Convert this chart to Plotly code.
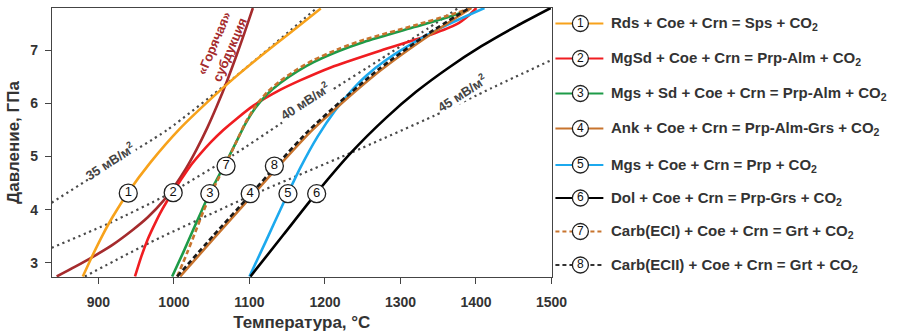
import plotly.graph_objects as go

# ---------------- data ----------------
T1 = [879.3, 892.6, 905.9, 919.1, 939.1, 968.4, 1008.2, 1052.1, 1077.4, 1114.6, 1154.5, 1194.4]
P1 = [2.74, 3.15, 3.53, 3.87, 4.32, 4.88, 5.53, 6.13, 6.45, 6.89, 7.34, 7.79]

T2 = [948.4, 956.4, 964.4, 972.3, 981.6, 989.6, 998.9, 1009.6, 1021.5, 1034.8, 1049.5, 1065.4, 1082.7, 1105.3, 1141.2, 1167.8, 1207.7, 1274.2, 1340.7, 1373.9, 1391.2, 1400.5]
P2 = [2.74, 3.10, 3.41, 3.66, 3.93, 4.13, 4.33, 4.57, 4.82, 5.05, 5.28, 5.50, 5.71, 5.96, 6.26, 6.44, 6.68, 7.00, 7.30, 7.49, 7.67, 7.80]

T3 = [997.6, 1012.2, 1025.5, 1036.2, 1046.8, 1058.8, 1070.7, 1082.7, 1094.7, 1108.0, 1123.9, 1141.2, 1163.8, 1185.1, 1218.4, 1251.6, 1318.1, 1363.3, 1389.9]
P3 = [2.74, 3.19, 3.62, 3.96, 4.30, 4.62, 4.94, 5.28, 5.62, 5.92, 6.18, 6.39, 6.61, 6.78, 6.99, 7.16, 7.44, 7.63, 7.76]

T4 = [1008.2, 1054.8, 1101.3, 1141.2, 1181.1, 1221.0, 1274.2, 1340.7, 1393.9]
P4 = [2.74, 3.49, 4.23, 4.86, 5.47, 5.99, 6.63, 7.31, 7.80]

T5 = [1100.0, 1122.6, 1145.2, 1167.8, 1190.4, 1213.0, 1234.3, 1254.3, 1280.9, 1314.1, 1354.0, 1411.2]
P5 = [2.74, 3.43, 4.13, 4.80, 5.38, 5.86, 6.23, 6.52, 6.82, 7.12, 7.43, 7.80]

T6 = [1101.3, 1145.2, 1189.1, 1234.3, 1280.9, 1320.7, 1363.3, 1407.2, 1453.7, 1498.9]
P6 = [2.74, 3.53, 4.32, 5.07, 5.73, 6.22, 6.67, 7.08, 7.46, 7.80]

T7 = [1004.3, 1017.6, 1029.5, 1038.8, 1048.8, 1060.1, 1071.4, 1082.7, 1094.7, 1108.0, 1123.9, 1141.2, 1163.8, 1185.1, 1218.4, 1251.6, 1318.1, 1363.3, 1392.6]
P7 = [2.74, 3.19, 3.62, 3.96, 4.30, 4.62, 4.94, 5.28, 5.64, 5.95, 6.22, 6.43, 6.65, 6.82, 7.03, 7.20, 7.47, 7.66, 7.79]

T8 = [1004.3, 1052.1, 1098.7, 1138.6, 1178.5, 1218.4, 1271.5, 1338.0, 1391.2]
P8 = [2.74, 3.51, 4.24, 4.88, 5.49, 6.01, 6.65, 7.33, 7.80]

T_hot = [844.7, 868.6, 892.6, 919.1, 945.7, 965.7, 985.6, 1001.6, 1016.2, 1029.5, 1044.1, 1057.4, 1070.7, 1082.7, 1093.4, 1104.5]
P_hot = [2.74, 2.92, 3.11, 3.34, 3.62, 3.86, 4.16, 4.46, 4.78, 5.12, 5.54, 5.97, 6.44, 6.90, 7.33, 7.80]

T_g35 = [838.0, 915.4, 990.9, 1077.4, 1189.1]
P_g35 = [4.13, 4.83, 5.50, 6.46, 7.80]
T_g40 = [838.0, 915.2, 990.9, 1078.7, 1141.2, 1207.7, 1274.2, 1327.4, 1376.6]
P_g40 = [3.28, 3.75, 4.28, 5.03, 5.62, 6.24, 6.84, 7.33, 7.80]
T_g45 = [881.9, 968.4, 1101.3, 1234.3, 1344.7, 1420.5, 1500.0]
P_g45 = [2.74, 3.38, 4.26, 5.07, 5.77, 6.29, 6.82]

label_num = ["1", "2", "3", "4", "5", "6", "7", "8"]
label_T = [939.5, 999.0, 1047.5, 1101.0, 1151.0, 1189.0, 1069.0, 1133.0]
label_P = [4.31, 4.32, 4.30, 4.30, 4.30, 4.30, 4.82, 4.82]

geo_text = ["35 мВ/м<sup>2</sup>", "40 мВ/м<sup>2</sup>", "45 мВ/м<sup>2</sup>"]
geo_T = [915.0, 1173.0, 1381.0]
geo_P = [4.92, 6.05, 6.20]

legend_text = [
    "Rds + Coe + Crn = Sps + CO<sub>2</sub>",
    "MgSd + Coe + Crn = Prp-Alm + CO<sub>2</sub>",
    "Mgs + Sd + Coe + Crn = Prp-Alm + CO<sub>2</sub>",
    "Ank + Coe + Crn = Prp-Alm-Grs + CO<sub>2</sub>",
    "Mgs + Coe + Crn = Prp + CO<sub>2</sub>",
    "Dol + Coe + Crn = Prp-Grs + CO<sub>2</sub>",
    "Carb(ECI) + Coe + Crn = Grt + CO<sub>2</sub>",
    "Carb(ECII) + Coe + Crn = Grt + CO<sub>2</sub>",
]

x_ticks = [900, 1000, 1100, 1200, 1300, 1400, 1500]
y_ticks = [3, 4, 5, 6, 7]

# ---------------- styles ----------------
C_OR = "#F7A21B"
C_RED = "#F01D21"
C_GRN = "#1E9B48"
C_ANK = "#C8742E"
C_BLU = "#1CA9EE"
C_BLK = "#000000"
C_HOT = "#A52B2D"
C_GEO = "#4A4A4A"
FONT = "Liberation Sans, Arial, sans-serif"

fig = go.Figure()

def line(T, P, color, width=2.6, dash="solid"):
    fig.add_trace(go.Scatter(x=T, y=P, mode="lines",
                             line=dict(color=color, width=width, dash=dash, shape="spline", smoothing=0.6),
                             hoverinfo="skip", showlegend=False))

# geotherms
for T, P in [(T_g35, P_g35), (T_g40, P_g40), (T_g45, P_g45)]:
    line(T, P, C_GEO, width=2.2, dash="2.2px,3.6px")

# reaction curves
line(T_hot, P_hot, C_HOT)
line(T1, P1, C_OR)
line(T2, P2, C_RED)
line(T3, P3, C_GRN)
line(T7, P7, C_ANK, dash="5px,3px")
line(T5, P5, C_BLU)
line(T4, P4, C_ANK)
line(T8, P8, "#1a1a1a", dash="5px,3px")
line(T6, P6, C_BLK)

# circled labels
fig.add_trace(go.Scatter(x=label_T, y=label_P, mode="markers+text", text=label_num,
                         textposition="middle center",
                         textfont=dict(family=FONT, size=13, color="#111"),
                         marker=dict(size=18, color="white", line=dict(color="#222", width=1.3)),
                         hoverinfo="skip", showlegend=False))

# ---------------- legend drawn on a pixel-mapped secondary axis ----------------
leg_colors = [C_OR, C_RED, C_GRN, C_ANK, C_BLU, C_BLK, C_ANK, "#333333"]
leg_dash = ["solid"] * 6 + ["4px,3px", "4px,3px"]
leg_y = [23.5, 58.5, 93.5, 128.5, 165, 198, 231.5, 265]
for i in range(8):
    fig.add_trace(go.Scatter(x=[555, 603], y=[leg_y[i], leg_y[i]], mode="lines",
                             xaxis="x2", yaxis="y2",
                             line=dict(color=leg_colors[i], width=2.2, dash=leg_dash[i]),
                             hoverinfo="skip", showlegend=False))
fig.add_trace(go.Scatter(x=[580] * 8, y=leg_y, mode="markers+text", text=label_num,
                         xaxis="x2", yaxis="y2", textposition="middle center",
                         textfont=dict(family=FONT, size=12, color="#111"),
                         marker=dict(size=16, color="white", line=dict(color="#222", width=1.3)),
                         hoverinfo="skip", showlegend=False))

annotations = []
for i in range(8):
    annotations.append(dict(x=609, y=leg_y[i], xref="x2", yref="y2", text=legend_text[i],
                            showarrow=False, xanchor="left", yanchor="middle",
                            font=dict(family=FONT, size=15, color="#333", weight="bold")))

# geotherm labels
for i in range(3):
    annotations.append(dict(x=geo_T[i], y=geo_P[i], xref="x", yref="y", text=geo_text[i],
                            showarrow=False, textangle=-33, bgcolor="white", borderpad=0,
                            font=dict(family=FONT, size=13, color="#444", weight="bold")))

# hot subduction label
annotations.append(dict(x=1064, y=7.08, xref="x", yref="y",
                        text="«Горячая»<br>субдукция", showarrow=False, textangle=-67,
                        font=dict(family=FONT, size=13, color=C_HOT, weight="bold")))

main_w = 499.5 / 851.0
fig.update_layout(
    width=903, height=334,
    margin=dict(l=52, r=0, t=8, b=57, autoexpand=False),
    paper_bgcolor="white", plot_bgcolor="white",
    font=dict(family=FONT, color="#333"),
    annotations=annotations,
    xaxis=dict(domain=[0, main_w], range=[838.5, 1500], tickvals=x_ticks,
               showline=True, linecolor="#444", linewidth=1.3, mirror=True,
               ticks="outside", ticklen=6, tickwidth=1.2, tickcolor="#444",
               showgrid=False, zeroline=False, ticklabelstandoff=6,
               tickfont=dict(family=FONT, size=14, color="#333", weight="bold"),
               title=dict(text="Температура, °C", standoff=7,
                          font=dict(family=FONT, size=17, color="#333", weight="bold"))),
    yaxis=dict(range=[2.73, 7.80], tickvals=y_ticks,
               showline=True, linecolor="#444", linewidth=1.3, mirror=True,
               ticks="outside", ticklen=6, tickwidth=1.2, tickcolor="#444",
               showgrid=False, zeroline=False, ticklabelstandoff=4,
               tickfont=dict(family=FONT, size=14, color="#333", weight="bold"),
               title=dict(text="Давление, ГПа", standoff=6,
                          font=dict(family=FONT, size=17, color="#333", weight="bold"))),
    xaxis2=dict(domain=[main_w + 0.0005, 1], range=[551.5, 903], visible=False, fixedrange=True),
    yaxis2=dict(domain=[0, 1], range=[277, 8], visible=False, anchor="x2", fixedrange=True),
)

fig.write_html("out.html")
